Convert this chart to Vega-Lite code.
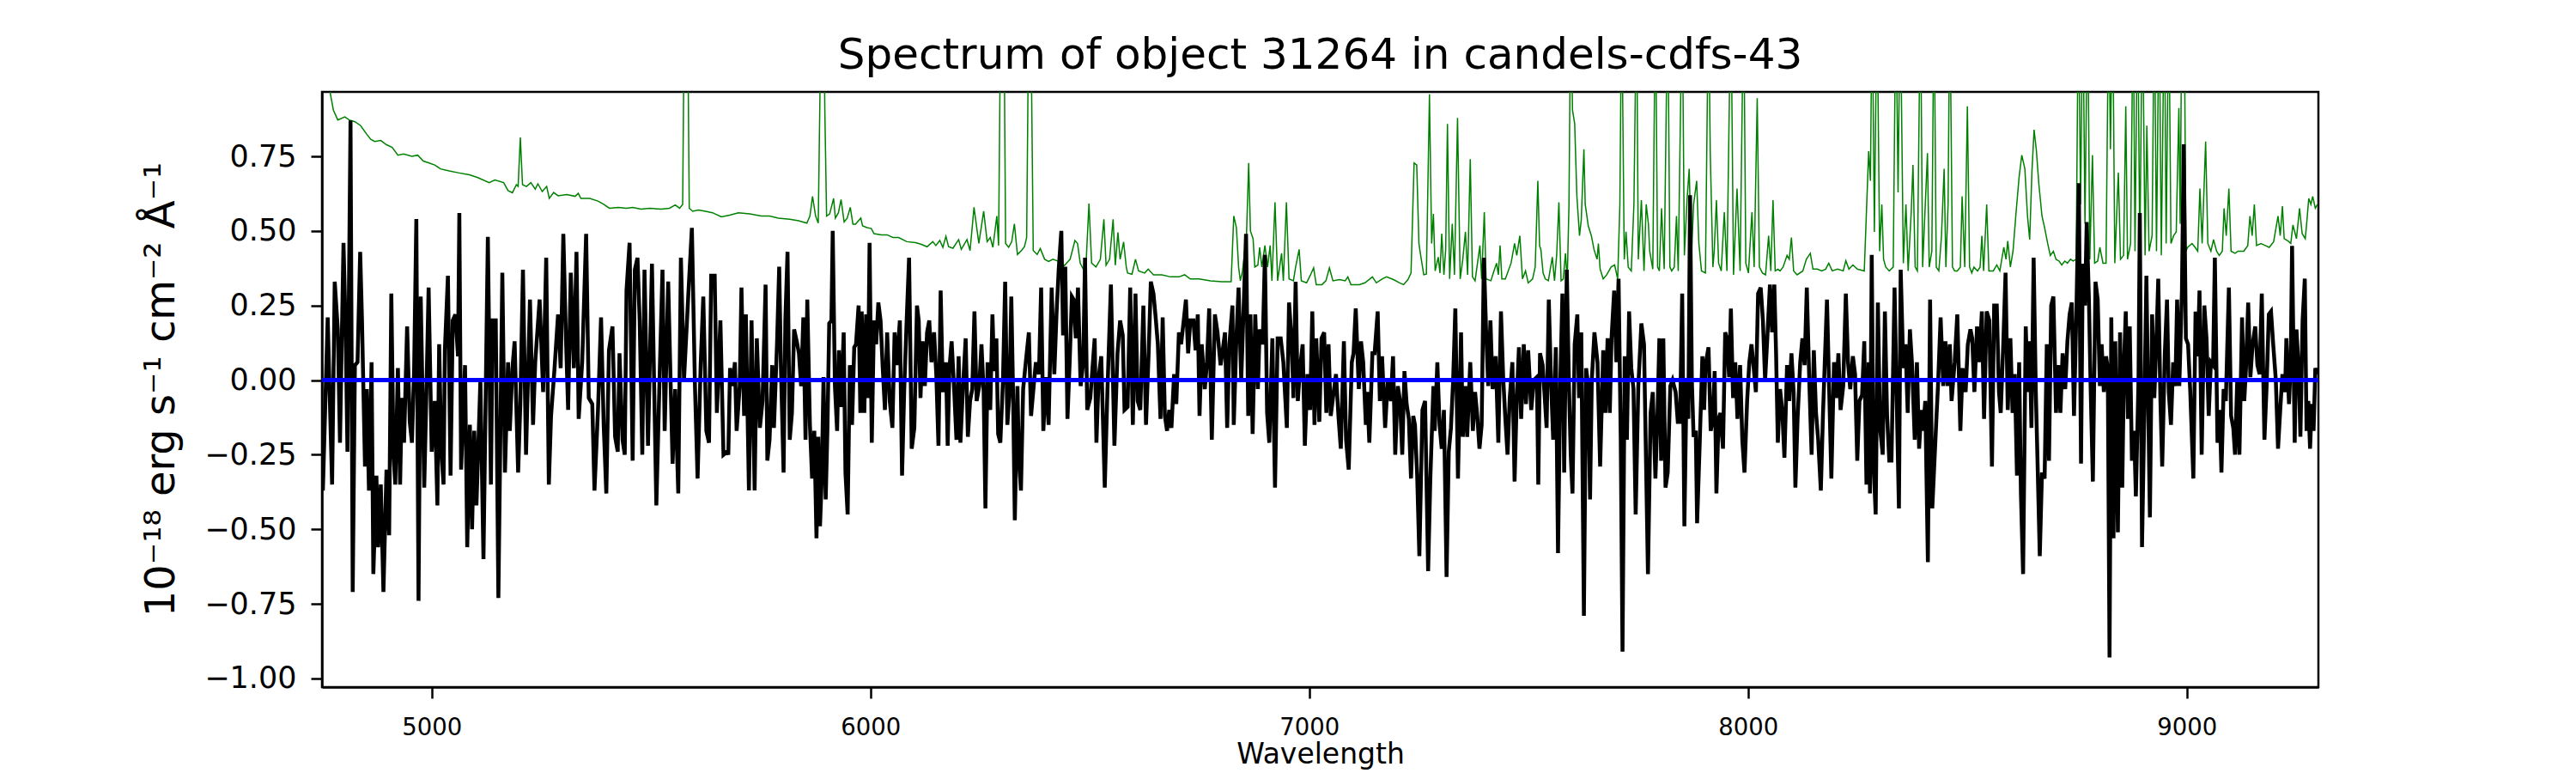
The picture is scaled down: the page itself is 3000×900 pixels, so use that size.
{
"$schema":"https://vega.github.io/schema/vega-lite/v6.json",
"width":2325,"height":693,
"autosize":{"type":"none"},
"padding":{"left":375,"top":107,"right":300,"bottom":100},
"background":"white",
"title":{"text":"Spectrum of object 31264 in candels-cdfs-43","font":"DejaVu Sans","fontSize":50,"fontWeight":"normal","color":"black","baseline":"alphabetic","offset":23,"dy":46,"frame":"group","anchor":"middle"},
"config":{"view":{"stroke":"black","strokeWidth":2.5},"axis":{"grid":false,"domainColor":"black","domainWidth":2.5,"tickColor":"black","tickWidth":2.5,"tickSize":13,"labelColor":"black","labelFont":"DejaVu Sans","titleFont":"DejaVu Sans","titleColor":"black","titleFontWeight":"normal","labelFlush":false,"labelOverlap":false,"labelBound":false}},
"datasets":{
"sky":[{"w":4750,"f":1.2},{"w":4769,"f":0.96},{"w":4776,"f":0.905},{"w":4786,"f":0.872},{"w":4802,"f":0.882},{"w":4812,"f":0.872},{"w":4825,"f":0.866},{"w":4838,"f":0.853},{"w":4851,"f":0.826},{"w":4861,"f":0.807},{"w":4870,"f":0.8},{"w":4884,"f":0.803},{"w":4897,"f":0.789},{"w":4910,"f":0.78},{"w":4923,"f":0.754},{"w":4936,"f":0.758},{"w":4955,"f":0.75},{"w":4968,"f":0.754},{"w":4981,"f":0.734},{"w":4994,"f":0.728},{"w":5007,"f":0.721},{"w":5020,"f":0.708},{"w":5040,"f":0.701},{"w":5060,"f":0.695},{"w":5086,"f":0.688},{"w":5105,"f":0.679},{"w":5131,"f":0.662},{"w":5144,"f":0.671},{"w":5164,"f":0.662},{"w":5174,"f":0.635},{"w":5184,"f":0.628},{"w":5193,"f":0.655},{"w":5197,"f":0.649},{"w":5202,"f":0.813},{"w":5207,"f":0.655},{"w":5216,"f":0.649},{"w":5226,"f":0.662},{"w":5236,"f":0.64},{"w":5242,"f":0.658},{"w":5252,"f":0.632},{"w":5262,"f":0.649},{"w":5268,"f":0.609},{"w":5278,"f":0.629},{"w":5288,"f":0.618},{"w":5308,"f":0.622},{"w":5327,"f":0.616},{"w":5334,"f":0.626},{"w":5340,"f":0.609},{"w":5360,"f":0.609},{"w":5379,"f":0.6},{"w":5392,"f":0.589},{"w":5405,"f":0.576},{"w":5425,"f":0.579},{"w":5444,"f":0.576},{"w":5458,"f":0.579},{"w":5477,"f":0.573},{"w":5497,"f":0.576},{"w":5523,"f":0.573},{"w":5542,"f":0.576},{"w":5555,"f":0.587},{"w":5565,"f":0.576},{"w":5572,"f":0.589},{"w":5576,"f":1.3},{"w":5583,"f":1.3},{"w":5587,"f":0.576},{"w":5595,"f":0.566},{"w":5608,"f":0.57},{"w":5624,"f":0.566},{"w":5640,"f":0.561},{"w":5660,"f":0.547},{"w":5679,"f":0.553},{"w":5699,"f":0.561},{"w":5725,"f":0.557},{"w":5751,"f":0.55},{"w":5770,"f":0.55},{"w":5790,"f":0.543},{"w":5816,"f":0.539},{"w":5836,"f":0.534},{"w":5855,"f":0.526},{"w":5862,"f":0.55},{"w":5868,"f":0.616},{"w":5875,"f":0.55},{"w":5881,"f":0.526},{"w":5888,"f":1.3},{"w":5893,"f":1.3},{"w":5896,"f":0.905},{"w":5900,"f":0.55},{"w":5907,"f":0.557},{"w":5916,"f":0.609},{"w":5920,"f":0.543},{"w":5927,"f":0.561},{"w":5933,"f":0.605},{"w":5940,"f":0.53},{"w":5947,"f":0.543},{"w":5954,"f":0.579},{"w":5960,"f":0.523},{"w":5966,"f":0.523},{"w":5978,"f":0.543},{"w":5982,"f":0.517},{"w":5992,"f":0.511},{"w":6002,"f":0.508},{"w":6008,"f":0.491},{"w":6025,"f":0.487},{"w":6038,"f":0.487},{"w":6051,"f":0.478},{"w":6064,"f":0.478},{"w":6083,"f":0.464},{"w":6103,"f":0.461},{"w":6116,"f":0.455},{"w":6129,"f":0.447},{"w":6142,"f":0.464},{"w":6149,"f":0.451},{"w":6158,"f":0.468},{"w":6165,"f":0.445},{"w":6172,"f":0.482},{"w":6178,"f":0.447},{"w":6188,"f":0.442},{"w":6201,"f":0.471},{"w":6207,"f":0.438},{"w":6220,"f":0.471},{"w":6227,"f":0.434},{"w":6236,"f":0.579},{"w":6247,"f":0.458},{"w":6258,"f":0.566},{"w":6266,"f":0.464},{"w":6273,"f":0.478},{"w":6279,"f":0.445},{"w":6288,"f":0.55},{"w":6292,"f":0.451},{"w":6297,"f":1.3},{"w":6304,"f":1.3},{"w":6308,"f":0.458},{"w":6315,"f":0.445},{"w":6322,"f":0.464},{"w":6328,"f":0.524},{"w":6335,"f":0.421},{"w":6344,"f":0.434},{"w":6351,"f":0.447},{"w":6356,"f":0.478},{"w":6361,"f":1.3},{"w":6365,"f":1.3},{"w":6371,"f":0.434},{"w":6380,"f":0.421},{"w":6387,"f":0.441},{"w":6397,"f":0.405},{"w":6406,"f":0.398},{"w":6416,"f":0.405},{"w":6429,"f":0.398},{"w":6442,"f":0.384},{"w":6455,"f":0.405},{"w":6466,"f":0.468},{"w":6472,"f":0.458},{"w":6478,"f":0.392},{"w":6485,"f":0.372},{"w":6491,"f":0.379},{"w":6498,"f":0.592},{"w":6504,"f":0.392},{"w":6514,"f":0.379},{"w":6524,"f":0.405},{"w":6532,"f":0.539},{"w":6537,"f":0.385},{"w":6545,"f":0.405},{"w":6553,"f":0.539},{"w":6558,"f":0.385},{"w":6564,"f":0.495},{"w":6569,"f":0.405},{"w":6577,"f":0.463},{"w":6583,"f":0.379},{"w":6586,"f":0.359},{"w":6596,"f":0.355},{"w":6604,"f":0.405},{"w":6611,"f":0.366},{"w":6625,"f":0.359},{"w":6633,"f":0.372},{"w":6645,"f":0.353},{"w":6664,"f":0.353},{"w":6684,"f":0.346},{"w":6703,"f":0.346},{"w":6716,"f":0.353},{"w":6729,"f":0.339},{"w":6749,"f":0.339},{"w":6775,"f":0.333},{"w":6801,"f":0.33},{"w":6822,"f":0.33},{"w":6828,"f":0.55},{"w":6834,"f":0.511},{"w":6839,"f":0.379},{"w":6843,"f":0.333},{"w":6848,"f":0.366},{"w":6857,"f":0.484},{"w":6862,"f":0.728},{"w":6866,"f":0.5},{"w":6872,"f":0.474},{"w":6876,"f":0.379},{"w":6883,"f":0.386},{"w":6887,"f":0.445},{"w":6892,"f":0.379},{"w":6899,"f":0.451},{"w":6905,"f":0.379},{"w":6911,"f":0.451},{"w":6915,"f":0.333},{"w":6922,"f":0.596},{"w":6928,"f":0.333},{"w":6937,"f":0.425},{"w":6941,"f":0.333},{"w":6948,"f":0.596},{"w":6954,"f":0.339},{"w":6964,"f":0.333},{"w":6969,"f":0.379},{"w":6977,"f":0.438},{"w":6982,"f":0.333},{"w":6994,"f":0.326},{"w":7003,"f":0.353},{"w":7010,"f":0.376},{"w":7016,"f":0.32},{"w":7029,"f":0.32},{"w":7038,"f":0.333},{"w":7046,"f":0.376},{"w":7054,"f":0.333},{"w":7069,"f":0.337},{"w":7082,"f":0.333},{"w":7088,"f":0.346},{"w":7095,"f":0.32},{"w":7114,"f":0.32},{"w":7127,"f":0.326},{"w":7144,"f":0.346},{"w":7153,"f":0.326},{"w":7166,"f":0.339},{"w":7176,"f":0.346},{"w":7192,"f":0.337},{"w":7206,"f":0.326},{"w":7215,"f":0.32},{"w":7225,"f":0.337},{"w":7232,"f":0.359},{"w":7239,"f":0.728},{"w":7245,"f":0.721},{"w":7250,"f":0.458},{"w":7254,"f":0.418},{"w":7261,"f":0.353},{"w":7267,"f":0.355},{"w":7274,"f":0.958},{"w":7279,"f":0.458},{"w":7283,"f":0.557},{"w":7287,"f":0.366},{"w":7294,"f":0.412},{"w":7298,"f":0.359},{"w":7302,"f":0.491},{"w":7307,"f":0.353},{"w":7311,"f":0.438},{"w":7315,"f":0.859},{"w":7320,"f":0.339},{"w":7326,"f":0.524},{"w":7331,"f":0.353},{"w":7338,"f":0.879},{"w":7344,"f":0.339},{"w":7350,"f":0.405},{"w":7356,"f":0.497},{"w":7361,"f":0.353},{"w":7367,"f":0.741},{"w":7372,"f":0.346},{"w":7378,"f":0.333},{"w":7389,"f":0.451},{"w":7393,"f":0.339},{"w":7399,"f":0.563},{"w":7403,"f":0.339},{"w":7414,"f":0.333},{"w":7421,"f":0.366},{"w":7427,"f":0.392},{"w":7431,"f":0.353},{"w":7435,"f":0.451},{"w":7439,"f":0.339},{"w":7447,"f":0.339},{"w":7460,"f":0.392},{"w":7468,"f":0.458},{"w":7473,"f":0.418},{"w":7480,"f":0.484},{"w":7486,"f":0.339},{"w":7493,"f":0.366},{"w":7499,"f":0.326},{"w":7509,"f":0.339},{"w":7515,"f":0.379},{"w":7521,"f":0.668},{"w":7525,"f":0.45},{"w":7528,"f":0.437},{"w":7533,"f":0.359},{"w":7538,"f":0.339},{"w":7545,"f":0.333},{"w":7554,"f":0.412},{"w":7559,"f":0.333},{"w":7564,"f":0.42},{"w":7569,"f":0.596},{"w":7574,"f":0.333},{"w":7579,"f":0.339},{"w":7584,"f":0.425},{"w":7588,"f":0.333},{"w":7592,"f":0.589},{"w":7596,"f":1.3},{"w":7600,"f":0.905},{"w":7605,"f":0.859},{"w":7610,"f":0.616},{"w":7616,"f":0.484},{"w":7620,"f":0.537},{"w":7626,"f":0.774},{"w":7629,"f":0.589},{"w":7636,"f":0.517},{"w":7643,"f":0.484},{"w":7649,"f":0.438},{"w":7656,"f":0.405},{"w":7659,"f":0.458},{"w":7663,"f":0.372},{"w":7670,"f":0.339},{"w":7678,"f":0.353},{"w":7688,"f":0.379},{"w":7696,"f":0.386},{"w":7703,"f":0.339},{"w":7708,"f":0.589},{"w":7712,"f":1.3},{"w":7718,"f":0.405},{"w":7722,"f":0.497},{"w":7727,"f":0.379},{"w":7734,"f":0.366},{"w":7740,"f":0.589},{"w":7746,"f":1.3},{"w":7750,"f":0.405},{"w":7757,"f":0.603},{"w":7763,"f":0.366},{"w":7768,"f":0.589},{"w":7773,"f":0.524},{"w":7776,"f":0.432},{"w":7783,"f":0.372},{"w":7789,"f":1.3},{"w":7794,"f":0.379},{"w":7798,"f":0.366},{"w":7803,"f":0.576},{"w":7809,"f":0.372},{"w":7817,"f":1.3},{"w":7822,"f":0.379},{"w":7826,"f":0.366},{"w":7832,"f":0.379},{"w":7837,"f":0.55},{"w":7841,"f":0.366},{"w":7850,"f":1.3},{"w":7855,"f":0.418},{"w":7861,"f":0.603},{"w":7866,"f":0.708},{"w":7871,"f":0.405},{"w":7876,"f":0.589},{"w":7883,"f":0.668},{"w":7888,"f":0.458},{"w":7894,"f":0.366},{"w":7903,"f":0.359},{"w":7910,"f":1.3},{"w":7914,"f":0.761},{"w":7920,"f":0.379},{"w":7923,"f":0.432},{"w":7928,"f":0.603},{"w":7933,"f":0.392},{"w":7939,"f":0.366},{"w":7946,"f":0.563},{"w":7952,"f":0.366},{"w":7961,"f":1.3},{"w":7967,"f":0.353},{"w":7975,"f":0.642},{"w":7982,"f":0.366},{"w":7990,"f":1.3},{"w":7995,"f":0.392},{"w":8001,"f":0.359},{"w":8009,"f":0.563},{"w":8014,"f":0.379},{"w":8021,"f":0.945},{"w":8026,"f":0.379},{"w":8033,"f":0.359},{"w":8040,"f":0.353},{"w":8047,"f":0.484},{"w":8052,"f":0.366},{"w":8057,"f":0.603},{"w":8062,"f":0.366},{"w":8068,"f":0.372},{"w":8073,"f":0.366},{"w":8080,"f":0.379},{"w":8089,"f":0.418},{"w":8094,"f":0.405},{"w":8099,"f":0.478},{"w":8104,"f":0.366},{"w":8112,"f":0.353},{"w":8125,"f":0.366},{"w":8133,"f":0.405},{"w":8142,"f":0.425},{"w":8148,"f":0.372},{"w":8158,"f":0.372},{"w":8168,"f":0.366},{"w":8177,"f":0.372},{"w":8184,"f":0.392},{"w":8192,"f":0.366},{"w":8204,"f":0.372},{"w":8217,"f":0.366},{"w":8223,"f":0.4},{"w":8230,"f":0.372},{"w":8239,"f":0.386},{"w":8249,"f":0.372},{"w":8265,"f":0.366},{"w":8275,"f":0.767},{"w":8279,"f":0.668},{"w":8283,"f":1.3},{"w":8288,"f":0.497},{"w":8294,"f":1.3},{"w":8300,"f":0.432},{"w":8305,"f":0.589},{"w":8309,"f":0.405},{"w":8314,"f":0.379},{"w":8322,"f":0.366},{"w":8331,"f":0.379},{"w":8337,"f":1.3},{"w":8342,"f":0.629},{"w":8347,"f":1.3},{"w":8354,"f":0.392},{"w":8360,"f":0.589},{"w":8365,"f":0.366},{"w":8372,"f":0.563},{"w":8376,"f":0.721},{"w":8381,"f":0.379},{"w":8386,"f":0.366},{"w":8393,"f":1.3},{"w":8398,"f":0.379},{"w":8409,"f":0.761},{"w":8413,"f":0.379},{"w":8419,"f":0.432},{"w":8424,"f":1.3},{"w":8429,"f":0.379},{"w":8435,"f":0.366},{"w":8441,"f":0.484},{"w":8447,"f":0.708},{"w":8451,"f":0.379},{"w":8456,"f":0.589},{"w":8460,"f":1.3},{"w":8466,"f":0.379},{"w":8471,"f":0.366},{"w":8477,"f":0.366},{"w":8484,"f":0.379},{"w":8488,"f":0.616},{"w":8494,"f":0.379},{"w":8500,"f":0.918},{"w":8505,"f":0.379},{"w":8510,"f":0.359},{"w":8515,"f":0.379},{"w":8523,"f":0.366},{"w":8529,"f":0.379},{"w":8533,"f":0.484},{"w":8537,"f":0.366},{"w":8544,"f":0.589},{"w":8549,"f":0.366},{"w":8559,"f":0.366},{"w":8567,"f":0.386},{"w":8574,"f":0.366},{"w":8583,"f":0.445},{"w":8588,"f":0.405},{"w":8592,"f":0.466},{"w":8598,"f":0.379},{"w":8604,"f":0.432},{"w":8611,"f":0.563},{"w":8618,"f":0.682},{"w":8624,"f":0.754},{"w":8631,"f":0.708},{"w":8637,"f":0.55},{"w":8642,"f":0.471},{"w":8647,"f":0.695},{"w":8652,"f":0.839},{"w":8657,"f":0.774},{"w":8663,"f":0.655},{"w":8670,"f":0.55},{"w":8676,"f":0.511},{"w":8683,"f":0.458},{"w":8689,"f":0.418},{"w":8696,"f":0.432},{"w":8702,"f":0.405},{"w":8709,"f":0.399},{"w":8715,"f":0.386},{"w":8722,"f":0.399},{"w":8728,"f":0.392},{"w":8735,"f":0.405},{"w":8741,"f":0.399},{"w":8748,"f":0.405},{"w":8753,"f":1.3},{"w":8758,"f":0.589},{"w":8763,"f":1.3},{"w":8768,"f":0.524},{"w":8774,"f":1.3},{"w":8779,"f":0.405},{"w":8785,"f":0.754},{"w":8790,"f":0.392},{"w":8797,"f":0.399},{"w":8802,"f":0.445},{"w":8809,"f":0.392},{"w":8816,"f":0.392},{"w":8822,"f":1.3},{"w":8826,"f":0.774},{"w":8831,"f":1.3},{"w":8836,"f":0.392},{"w":8844,"f":0.695},{"w":8849,"f":0.405},{"w":8856,"f":0.418},{"w":8861,"f":0.918},{"w":8865,"f":0.405},{"w":8872,"f":0.458},{"w":8878,"f":1.3},{"w":8882,"f":0.432},{"w":8888,"f":1.3},{"w":8893,"f":0.432},{"w":8899,"f":1.3},{"w":8905,"f":0.418},{"w":8909,"f":0.853},{"w":8914,"f":0.432},{"w":8921,"f":0.484},{"w":8926,"f":1.3},{"w":8931,"f":0.432},{"w":8937,"f":1.3},{"w":8942,"f":0.418},{"w":8949,"f":1.3},{"w":8953,"f":0.458},{"w":8959,"f":1.3},{"w":8964,"f":0.458},{"w":8970,"f":0.484},{"w":8976,"f":0.497},{"w":8982,"f":0.912},{"w":8985,"f":0.524},{"w":8989,"f":1.3},{"w":8994,"f":1.3},{"w":8998,"f":0.432},{"w":9002,"f":0.445},{"w":9012,"f":0.458},{"w":9019,"f":0.445},{"w":9025,"f":0.432},{"w":9030,"f":0.642},{"w":9035,"f":0.458},{"w":9043,"f":0.8},{"w":9048,"f":0.458},{"w":9055,"f":0.432},{"w":9061,"f":0.471},{"w":9068,"f":0.432},{"w":9074,"f":0.418},{"w":9081,"f":0.432},{"w":9085,"f":0.576},{"w":9090,"f":0.484},{"w":9096,"f":0.642},{"w":9101,"f":0.432},{"w":9110,"f":0.425},{"w":9117,"f":0.432},{"w":9130,"f":0.432},{"w":9139,"f":0.451},{"w":9144,"f":0.55},{"w":9149,"f":0.484},{"w":9154,"f":0.589},{"w":9159,"f":0.451},{"w":9169,"f":0.458},{"w":9179,"f":0.451},{"w":9188,"f":0.445},{"w":9198,"f":0.464},{"w":9208,"f":0.55},{"w":9213,"f":0.484},{"w":9218,"f":0.583},{"w":9222,"f":0.474},{"w":9231,"f":0.466},{"w":9237,"f":0.458},{"w":9242,"f":0.52},{"w":9247,"f":0.491},{"w":9250,"f":0.474},{"w":9257,"f":0.576},{"w":9263,"f":0.491},{"w":9270,"f":0.474},{"w":9273,"f":0.52},{"w":9278,"f":0.609},{"w":9283,"f":0.589},{"w":9287,"f":0.616},{"w":9293,"f":0.576},{"w":9298,"f":0.589}],
"spec":[{"w":4752,"f":-0.37},{"w":4756,"f":-0.16},{"w":4763,"f":0.21},{"w":4769,"f":-0.13},{"w":4773,"f":-0.35},{"w":4779,"f":0.33},{"w":4786,"f":0.17},{"w":4791,"f":-0.21},{"w":4799,"f":0.46},{"w":4804,"f":0.16},{"w":4808,"f":-0.24},{"w":4815,"f":0.87},{"w":4820,"f":-0.71},{"w":4825,"f":0.05},{"w":4831,"f":0.06},{"w":4837,"f":0.43},{"w":4841,"f":0.21},{"w":4848,"f":-0.29},{"w":4852,"f":-0.03},{"w":4857,"f":-0.37},{"w":4863,"f":0.06},{"w":4867,"f":-0.65},{"w":4874,"f":-0.32},{"w":4878,"f":-0.56},{"w":4884,"f":-0.35},{"w":4890,"f":-0.71},{"w":4897,"f":-0.3},{"w":4903,"f":-0.52},{"w":4908,"f":0.29},{"w":4913,"f":-0.25},{"w":4917,"f":-0.35},{"w":4923,"f":0.04},{"w":4928,"f":-0.35},{"w":4932,"f":-0.06},{"w":4937,"f":-0.21},{"w":4944,"f":0.18},{"w":4950,"f":-0.14},{"w":4955,"f":-0.21},{"w":4960,"f":0.04},{"w":4965,"f":0.54},{"w":4970,"f":-0.74},{"w":4975,"f":0.28},{"w":4983,"f":-0.36},{"w":4988,"f":-0.04},{"w":4993,"f":0.31},{"w":5000,"f":-0.24},{"w":5007,"f":-0.07},{"w":5013,"f":-0.42},{"w":5017,"f":0.12},{"w":5022,"f":-0.24},{"w":5027,"f":-0.35},{"w":5030,"f":0.1},{"w":5037,"f":0.35},{"w":5043,"f":-0.32},{"w":5048,"f":0.2},{"w":5054,"f":0.22},{"w":5060,"f":0.08},{"w":5063,"f":0.56},{"w":5067,"f":-0.3},{"w":5076,"f":0.05},{"w":5081,"f":-0.56},{"w":5087,"f":-0.15},{"w":5092,"f":-0.5},{"w":5097,"f":-0.17},{"w":5102,"f":-0.42},{"w":5111,"f":0},{"w":5118,"f":-0.6},{"w":5128,"f":0.48},{"w":5135,"f":-0.35},{"w":5139,"f":0.2},{"w":5146,"f":0.2},{"w":5152,"f":-0.73},{"w":5161,"f":0.36},{"w":5167,"f":-0.31},{"w":5174,"f":0.06},{"w":5178,"f":-0.17},{"w":5184,"f":0.04},{"w":5189,"f":0.13},{"w":5197,"f":-0.31},{"w":5202,"f":-0.08},{"w":5208,"f":0.37},{"w":5215,"f":-0.25},{"w":5224,"f":0.27},{"w":5231,"f":-0.15},{"w":5236,"f":0.06},{"w":5246,"f":0.27},{"w":5254,"f":-0.04},{"w":5261,"f":0.41},{"w":5267,"f":-0.35},{"w":5272,"f":-0.12},{"w":5280,"f":0.04},{"w":5288,"f":0.22},{"w":5294,"f":0.04},{"w":5300,"f":0.49},{"w":5306,"f":0.14},{"w":5311,"f":-0.1},{"w":5317,"f":0.36},{"w":5324,"f":0.04},{"w":5330,"f":0.43},{"w":5335,"f":-0.13},{"w":5343,"f":0.06},{"w":5352,"f":0.49},{"w":5358,"f":-0.06},{"w":5366,"f":-0.08},{"w":5371,"f":-0.37},{"w":5379,"f":-0.1},{"w":5386,"f":0.21},{"w":5392,"f":-0.15},{"w":5398,"f":-0.38},{"w":5404,"f":0.1},{"w":5412,"f":0.18},{"w":5418,"f":-0.19},{"w":5424,"f":-0.24},{"w":5428,"f":0.09},{"w":5435,"f":-0.2},{"w":5440,"f":-0.25},{"w":5444,"f":0.3},{"w":5451,"f":0.46},{"w":5458,"f":-0.27},{"w":5463,"f":0.37},{"w":5469,"f":0.41},{"w":5474,"f":0.2},{"w":5480,"f":-0.25},{"w":5485,"f":0.37},{"w":5493,"f":-0.22},{"w":5502,"f":0.39},{"w":5512,"f":-0.42},{"w":5520,"f":0.04},{"w":5526,"f":0.37},{"w":5531,"f":-0.17},{"w":5539,"f":0.33},{"w":5549,"f":-0.28},{"w":5555,"f":-0.03},{"w":5562,"f":-0.38},{"w":5568,"f":0.41},{"w":5575,"f":0},{"w":5585,"f":0.29},{"w":5593,"f":0.51},{"w":5600,"f":-0.02},{"w":5606,"f":-0.33},{"w":5613,"f":0.05},{"w":5619,"f":0.28},{"w":5626,"f":-0.17},{"w":5632,"f":-0.21},{"w":5637,"f":0.35},{"w":5645,"f":0.35},{"w":5650,"f":-0.11},{"w":5658,"f":0.2},{"w":5665,"f":-0.25},{"w":5673,"f":-0.24},{"w":5676,"f":-0.25},{"w":5680,"f":0.04},{"w":5686,"f":-0.02},{"w":5691,"f":0.06},{"w":5695,"f":-0.17},{"w":5702,"f":-0.02},{"w":5706,"f":0.31},{"w":5712,"f":-0.12},{"w":5716,"f":0.22},{"w":5723,"f":-0.37},{"w":5729,"f":0.2},{"w":5736,"f":-0.37},{"w":5741,"f":0.14},{"w":5748,"f":-0.16},{"w":5754,"f":-0.07},{"w":5761,"f":0.32},{"w":5765,"f":-0.27},{"w":5770,"f":-0.2},{"w":5776,"f":0.05},{"w":5780,"f":-0.16},{"w":5787,"f":0.12},{"w":5792,"f":0.38},{"w":5796,"f":0.04},{"w":5802,"f":-0.31},{"w":5806,"f":0.2},{"w":5811,"f":0.43},{"w":5816,"f":-0.2},{"w":5821,"f":-0.11},{"w":5826,"f":0.17},{"w":5832,"f":0.13},{"w":5837,"f":0.09},{"w":5842,"f":-0.02},{"w":5847,"f":0.21},{"w":5852,"f":-0.2},{"w":5856,"f":0.27},{"w":5862,"f":-0.15},{"w":5867,"f":-0.33},{"w":5872,"f":-0.17},{"w":5877,"f":-0.53},{"w":5881,"f":-0.19},{"w":5885,"f":-0.49},{"w":5889,"f":-0.33},{"w":5893,"f":0.01},{"w":5898,"f":-0.4},{"w":5902,"f":-0.16},{"w":5906,"f":0.19},{"w":5911,"f":0.2},{"w":5914,"f":0.5},{"w":5919,"f":-0.02},{"w":5924,"f":-0.17},{"w":5928,"f":0.1},{"w":5933,"f":-0.09},{"w":5939,"f":0.16},{"w":5943,"f":-0.31},{"w":5948,"f":-0.45},{"w":5953,"f":0.05},{"w":5958,"f":-0.15},{"w":5963,"f":0.11},{"w":5967,"f":0.12},{"w":5973,"f":0.25},{"w":5977,"f":-0.11},{"w":5980,"f":0.23},{"w":5986,"f":-0.11},{"w":5990,"f":0.22},{"w":5994,"f":-0.06},{"w":5998,"f":0.46},{"w":6003,"f":-0.21},{"w":6008,"f":0.2},{"w":6013,"f":0.12},{"w":6018,"f":0.26},{"w":6023,"f":0.2},{"w":6028,"f":0.04},{"w":6033,"f":-0.1},{"w":6038,"f":0.16},{"w":6044,"f":-0.07},{"w":6050,"f":-0.16},{"w":6055,"f":0.16},{"w":6060,"f":0.05},{"w":6067,"f":0.2},{"w":6072,"f":-0.32},{"w":6077,"f":-0.03},{"w":6082,"f":0.18},{"w":6088,"f":0.41},{"w":6094,"f":-0.23},{"w":6100,"f":-0.16},{"w":6106,"f":0.25},{"w":6110,"f":0.2},{"w":6114,"f":-0.06},{"w":6119,"f":0.13},{"w":6124,"f":-0.02},{"w":6129,"f":0.16},{"w":6134,"f":0.2},{"w":6139,"f":0.06},{"w":6145,"f":0.16},{"w":6150,"f":0.02},{"w":6155,"f":-0.22},{"w":6160,"f":0.3},{"w":6165,"f":-0.04},{"w":6172,"f":0.06},{"w":6176,"f":-0.22},{"w":6180,"f":0.04},{"w":6185,"f":0.13},{"w":6191,"f":-0.04},{"w":6196,"f":-0.2},{"w":6201,"f":0.08},{"w":6205,"f":-0.21},{"w":6211,"f":-0.02},{"w":6217,"f":0.14},{"w":6222,"f":-0.19},{"w":6227,"f":-0.07},{"w":6232,"f":-0.03},{"w":6237,"f":0.23},{"w":6242,"f":-0.07},{"w":6248,"f":-0.02},{"w":6253,"f":0.12},{"w":6258,"f":-0.04},{"w":6262,"f":-0.43},{"w":6267,"f":0.06},{"w":6273,"f":-0.1},{"w":6278,"f":0.22},{"w":6282,"f":0.03},{"w":6287,"f":0.14},{"w":6291,"f":-0.18},{"w":6296,"f":-0.21},{"w":6302,"f":0},{"w":6307,"f":0.33},{"w":6312,"f":-0.15},{"w":6317,"f":-0.04},{"w":6321,"f":0.28},{"w":6325,"f":-0.04},{"w":6329,"f":-0.47},{"w":6335,"f":-0.02},{"w":6338,"f":-0.25},{"w":6343,"f":-0.37},{"w":6348,"f":-0.03},{"w":6354,"f":0.06},{"w":6361,"f":0.16},{"w":6366,"f":-0.12},{"w":6372,"f":-0.02},{"w":6377,"f":0.06},{"w":6384,"f":0.02},{"w":6389,"f":0.31},{"w":6394,"f":-0.17},{"w":6400,"f":0.01},{"w":6406,"f":-0.15},{"w":6413,"f":0.31},{"w":6419,"f":0.02},{"w":6424,"f":0.22},{"w":6429,"f":0.37},{"w":6435,"f":0.5},{"w":6439,"f":0.15},{"w":6444,"f":0.38},{"w":6449,"f":-0.13},{"w":6454,"f":0.06},{"w":6459,"f":0.28},{"w":6463,"f":0.27},{"w":6468,"f":0.14},{"w":6473,"f":0.31},{"w":6479,"f":-0.02},{"w":6485,"f":0.06},{"w":6489,"f":0.41},{"w":6494,"f":-0.1},{"w":6501,"f":-0.06},{"w":6506,"f":0.04},{"w":6511,"f":0.14},{"w":6515,"f":-0.21},{"w":6520,"f":0.01},{"w":6526,"f":0.08},{"w":6534,"f":-0.36},{"w":6540,"f":-0.04},{"w":6548,"f":0.32},{"w":6556,"f":-0.22},{"w":6563,"f":0.09},{"w":6569,"f":0.2},{"w":6575,"f":0.15},{"w":6579,"f":-0.1},{"w":6586,"f":-0.09},{"w":6592,"f":0.31},{"w":6598,"f":-0.15},{"w":6604,"f":0.29},{"w":6609,"f":-0.07},{"w":6615,"f":-0.1},{"w":6622,"f":0.25},{"w":6628,"f":-0.15},{"w":6634,"f":0.09},{"w":6639,"f":0.33},{"w":6645,"f":0.29},{"w":6650,"f":0.21},{"w":6655,"f":0.12},{"w":6661,"f":-0.13},{"w":6666,"f":0.21},{"w":6671,"f":-0.12},{"w":6676,"f":-0.17},{"w":6681,"f":-0.1},{"w":6686,"f":-0.16},{"w":6692,"f":0.02},{"w":6697,"f":-0.08},{"w":6703,"f":0.16},{"w":6708,"f":0.12},{"w":6714,"f":0.2},{"w":6719,"f":0.27},{"w":6724,"f":0.09},{"w":6729,"f":0.2},{"w":6736,"f":0.2},{"w":6741,"f":0.1},{"w":6746,"f":0.22},{"w":6750,"f":-0.12},{"w":6755,"f":0.12},{"w":6762,"f":-0.03},{"w":6767,"f":0.06},{"w":6772,"f":0.24},{"w":6778,"f":-0.2},{"w":6785,"f":0.22},{"w":6791,"f":0.16},{"w":6798,"f":0.05},{"w":6802,"f":0.09},{"w":6808,"f":0.16},{"w":6813,"f":-0.16},{"w":6818,"f":0.12},{"w":6825,"f":0.25},{"w":6828,"f":-0.15},{"w":6834,"f":0.14},{"w":6839,"f":0.31},{"w":6845,"f":0},{"w":6850,"f":0.22},{"w":6856,"f":0.49},{"w":6861,"f":-0.12},{"w":6866,"f":0.22},{"w":6871,"f":-0.18},{"w":6877,"f":0.22},{"w":6883,"f":-0.03},{"w":6887,"f":0.17},{"w":6894,"f":0.12},{"w":6899,"f":0.42},{"w":6904,"f":-0.11},{"w":6909,"f":-0.21},{"w":6916,"f":0.14},{"w":6922,"f":-0.36},{"w":6928,"f":0.14},{"w":6935,"f":0.14},{"w":6941,"f":0.06},{"w":6949,"f":-0.16},{"w":6954,"f":0.26},{"w":6960,"f":0.13},{"w":6964,"f":-0.06},{"w":6969,"f":0.33},{"w":6974,"f":-0.07},{"w":6979,"f":0.04},{"w":6985,"f":0.12},{"w":6990,"f":-0.22},{"w":6996,"f":0.02},{"w":7002,"f":-0.1},{"w":7007,"f":0.23},{"w":7012,"f":-0.15},{"w":7016,"f":0.14},{"w":7023,"f":-0.14},{"w":7028,"f":0.14},{"w":7034,"f":0.16},{"w":7039,"f":-0.11},{"w":7044,"f":0.12},{"w":7049,"f":-0.12},{"w":7054,"f":-0.06},{"w":7061,"f":0.02},{"w":7067,"f":-0.13},{"w":7072,"f":-0.23},{"w":7079,"f":0.13},{"w":7084,"f":-0.2},{"w":7090,"f":-0.3},{"w":7097,"f":0.06},{"w":7101,"f":0.09},{"w":7106,"f":0.24},{"w":7113,"f":-0.03},{"w":7118,"f":0.13},{"w":7123,"f":0.06},{"w":7129,"f":-0.15},{"w":7132,"f":-0.04},{"w":7137,"f":-0.21},{"w":7144,"f":0.09},{"w":7149,"f":0.09},{"w":7156,"f":0.23},{"w":7161,"f":-0.07},{"w":7166,"f":0.08},{"w":7173,"f":-0.16},{"w":7179,"f":0},{"w":7186,"f":-0.07},{"w":7191,"f":0.08},{"w":7196,"f":-0.25},{"w":7202,"f":-0.02},{"w":7207,"f":-0.07},{"w":7212,"f":-0.25},{"w":7217,"f":0.03},{"w":7222,"f":-0.08},{"w":7227,"f":-0.13},{"w":7232,"f":-0.33},{"w":7237,"f":-0.12},{"w":7241,"f":-0.15},{"w":7246,"f":-0.32},{"w":7251,"f":-0.59},{"w":7258,"f":-0.1},{"w":7264,"f":-0.07},{"w":7271,"f":-0.64},{"w":7276,"f":-0.33},{"w":7283,"f":-0.02},{"w":7286,"f":-0.17},{"w":7292,"f":0.06},{"w":7297,"f":-0.15},{"w":7302,"f":-0.23},{"w":7307,"f":-0.1},{"w":7313,"f":-0.66},{"w":7318,"f":-0.24},{"w":7323,"f":-0.16},{"w":7328,"f":0},{"w":7333,"f":0.24},{"w":7339,"f":-0.33},{"w":7346,"f":0.16},{"w":7350,"f":-0.19},{"w":7356,"f":-0.02},{"w":7360,"f":-0.19},{"w":7367,"f":0.06},{"w":7373,"f":-0.17},{"w":7378,"f":-0.04},{"w":7383,"f":-0.12},{"w":7388,"f":-0.23},{"w":7393,"f":-0.15},{"w":7398,"f":0.41},{"w":7403,"f":0.17},{"w":7408,"f":-0.02},{"w":7413,"f":0.2},{"w":7418,"f":-0.03},{"w":7425,"f":0.08},{"w":7431,"f":-0.21},{"w":7437,"f":0.23},{"w":7442,"f":0.01},{"w":7447,"f":-0.13},{"w":7452,"f":-0.25},{"w":7457,"f":-0.06},{"w":7463,"f":0.06},{"w":7468,"f":-0.34},{"w":7473,"f":-0.06},{"w":7478,"f":0.11},{"w":7483,"f":-0.13},{"w":7489,"f":0.12},{"w":7494,"f":-0.08},{"w":7499,"f":0.1},{"w":7506,"f":-0.1},{"w":7512,"f":0},{"w":7519,"f":0.01},{"w":7522,"f":-0.35},{"w":7526,"f":0.09},{"w":7532,"f":0.05},{"w":7536,"f":-0.04},{"w":7541,"f":-0.16},{"w":7546,"f":0.27},{"w":7551,"f":0},{"w":7556,"f":-0.2},{"w":7562,"f":0.11},{"w":7567,"f":-0.58},{"w":7572,"f":-0.02},{"w":7577,"f":0.29},{"w":7581,"f":-0.31},{"w":7587,"f":0.37},{"w":7592,"f":-0.02},{"w":7596,"f":-0.25},{"w":7600,"f":-0.38},{"w":7605,"f":0.12},{"w":7611,"f":0.22},{"w":7615,"f":-0.06},{"w":7620,"f":0.16},{"w":7626,"f":-0.79},{"w":7631,"f":0.04},{"w":7636,"f":-0.02},{"w":7640,"f":-0.4},{"w":7644,"f":0},{"w":7650,"f":0.16},{"w":7657,"f":0.06},{"w":7663,"f":-0.29},{"w":7670,"f":0.1},{"w":7675,"f":-0.11},{"w":7680,"f":0.14},{"w":7685,"f":-0.11},{"w":7689,"f":0.14},{"w":7695,"f":0.3},{"w":7700,"f":0.06},{"w":7705,"f":0.34},{"w":7710,"f":-0.2},{"w":7714,"f":-0.91},{"w":7719,"f":0.08},{"w":7724,"f":-0.2},{"w":7729,"f":0.23},{"w":7734,"f":0.04},{"w":7739,"f":-0.03},{"w":7744,"f":-0.45},{"w":7750,"f":-0.02},{"w":7757,"f":0.19},{"w":7763,"f":0.12},{"w":7772,"f":-0.65},{"w":7778,"f":-0.11},{"w":7783,"f":-0.04},{"w":7789,"f":-0.33},{"w":7794,"f":-0.1},{"w":7798,"f":0.14},{"w":7802,"f":-0.27},{"w":7807,"f":0.14},{"w":7812,"f":-0.36},{"w":7817,"f":-0.31},{"w":7823,"f":-0.02},{"w":7828,"f":0},{"w":7835,"f":-0.04},{"w":7840,"f":-0.14},{"w":7845,"f":-0.14},{"w":7850,"f":0.29},{"w":7855,"f":-0.49},{"w":7860,"f":0},{"w":7864,"f":-0.13},{"w":7868,"f":0.62},{"w":7872,"f":0},{"w":7876,"f":-0.19},{"w":7881,"f":-0.17},{"w":7884,"f":-0.48},{"w":7890,"f":-0.21},{"w":7896,"f":0.08},{"w":7900,"f":-0.1},{"w":7903,"f":0.05},{"w":7910,"f":0.11},{"w":7915,"f":-0.17},{"w":7920,"f":-0.13},{"w":7924,"f":0.03},{"w":7928,"f":-0.38},{"w":7933,"f":-0.13},{"w":7937,"f":-0.11},{"w":7943,"f":-0.23},{"w":7948,"f":0.16},{"w":7952,"f":0.14},{"w":7957,"f":0.01},{"w":7961,"f":0.24},{"w":7966,"f":-0.06},{"w":7971,"f":0.06},{"w":7976,"f":-0.13},{"w":7982,"f":0.05},{"w":7987,"f":-0.2},{"w":7992,"f":-0.31},{"w":7998,"f":-0.07},{"w":8003,"f":0.06},{"w":8008,"f":0.12},{"w":8013,"f":0.04},{"w":8018,"f":-0.04},{"w":8023,"f":0.29},{"w":8029,"f":0.31},{"w":8034,"f":0.2},{"w":8039,"f":0},{"w":8044,"f":0.14},{"w":8050,"f":0.32},{"w":8055,"f":0.16},{"w":8060,"f":0.32},{"w":8064,"f":0.09},{"w":8068,"f":-0.21},{"w":8073,"f":-0.03},{"w":8078,"f":-0.1},{"w":8083,"f":-0.26},{"w":8089,"f":0.05},{"w":8094,"f":-0.07},{"w":8099,"f":0.09},{"w":8104,"f":-0.04},{"w":8108,"f":-0.36},{"w":8113,"f":-0.13},{"w":8119,"f":0.06},{"w":8124,"f":0.14},{"w":8129,"f":0.05},{"w":8134,"f":0.31},{"w":8140,"f":-0.02},{"w":8145,"f":-0.25},{"w":8150,"f":0.1},{"w":8155,"f":-0.11},{"w":8160,"f":-0.2},{"w":8166,"f":-0.37},{"w":8171,"f":-0.11},{"w":8175,"f":0.06},{"w":8180,"f":0.27},{"w":8185,"f":-0.03},{"w":8190,"f":-0.33},{"w":8196,"f":0.06},{"w":8201,"f":-0.06},{"w":8206,"f":0.09},{"w":8211,"f":-0.1},{"w":8217,"f":-0.02},{"w":8223,"f":0.29},{"w":8228,"f":0.06},{"w":8233,"f":-0.03},{"w":8239,"f":0.08},{"w":8244,"f":0.02},{"w":8249,"f":-0.27},{"w":8254,"f":-0.07},{"w":8260,"f":-0.05},{"w":8265,"f":0.13},{"w":8270,"f":-0.35},{"w":8275,"f":0.06},{"w":8278,"f":-0.38},{"w":8282,"f":0.42},{"w":8286,"f":-0.27},{"w":8291,"f":-0.45},{"w":8296,"f":0.26},{"w":8301,"f":-0.16},{"w":8307,"f":-0.25},{"w":8312,"f":0.23},{"w":8317,"f":-0.12},{"w":8322,"f":-0.27},{"w":8327,"f":-0.27},{"w":8334,"f":0.31},{"w":8339,"f":-0.07},{"w":8344,"f":-0.43},{"w":8348,"f":0.37},{"w":8354,"f":0.04},{"w":8359,"f":0.12},{"w":8364,"f":-0.11},{"w":8369,"f":0.17},{"w":8374,"f":0.05},{"w":8380,"f":-0.2},{"w":8385,"f":0.06},{"w":8390,"f":-0.23},{"w":8395,"f":-0.1},{"w":8399,"f":-0.17},{"w":8404,"f":-0.07},{"w":8410,"f":-0.61},{"w":8415,"f":0.27},{"w":8420,"f":-0.43},{"w":8425,"f":-0.27},{"w":8430,"f":-0.11},{"w":8433,"f":-0.02},{"w":8439,"f":0.21},{"w":8445,"f":-0.02},{"w":8450,"f":0.13},{"w":8455,"f":-0.02},{"w":8460,"f":0.12},{"w":8464,"f":-0.07},{"w":8471,"f":0.06},{"w":8477,"f":0.22},{"w":8484,"f":-0.17},{"w":8489,"f":0.04},{"w":8496,"f":-0.04},{"w":8501,"f":0.12},{"w":8507,"f":0.17},{"w":8511,"f":0.14},{"w":8516,"f":-0.04},{"w":8522,"f":0.18},{"w":8527,"f":0.06},{"w":8533,"f":0.23},{"w":8538,"f":-0.13},{"w":8544,"f":0.23},{"w":8550,"f":0.2},{"w":8556,"f":-0.29},{"w":8561,"f":0.25},{"w":8567,"f":0.25},{"w":8572,"f":-0.04},{"w":8576,"f":-0.11},{"w":8582,"f":0.13},{"w":8587,"f":0.36},{"w":8592,"f":-0.1},{"w":8598,"f":0.14},{"w":8603,"f":-0.11},{"w":8608,"f":0.02},{"w":8613,"f":-0.32},{"w":8618,"f":0.06},{"w":8622,"f":-0.38},{"w":8627,"f":-0.65},{"w":8633,"f":0.18},{"w":8638,"f":-0.04},{"w":8642,"f":0.13},{"w":8646,"f":-0.16},{"w":8651,"f":0.41},{"w":8656,"f":-0.04},{"w":8660,"f":-0.28},{"w":8665,"f":-0.59},{"w":8670,"f":-0.31},{"w":8676,"f":-0.33},{"w":8681,"f":0.12},{"w":8686,"f":-0.27},{"w":8691,"f":0.25},{"w":8696,"f":0.28},{"w":8702,"f":-0.11},{"w":8707,"f":0.05},{"w":8712,"f":-0.11},{"w":8717,"f":0.09},{"w":8723,"f":-0.03},{"w":8728,"f":0.13},{"w":8733,"f":0.22},{"w":8738,"f":0.26},{"w":8743,"f":-0.12},{"w":8749,"f":0.27},{"w":8754,"f":0.66},{"w":8759,"f":-0.28},{"w":8763,"f":0.39},{"w":8768,"f":0.25},{"w":8772,"f":0.53},{"w":8777,"f":0.27},{"w":8781,"f":-0.03},{"w":8786,"f":-0.34},{"w":8792,"f":0.33},{"w":8797,"f":0.27},{"w":8802,"f":-0.02},{"w":8806,"f":0.12},{"w":8811,"f":-0.04},{"w":8816,"f":0.08},{"w":8820,"f":0.04},{"w":8824,"f":-0.93},{"w":8828,"f":0.21},{"w":8833,"f":-0.53},{"w":8837,"f":0.13},{"w":8843,"f":-0.51},{"w":8848,"f":0.16},{"w":8853,"f":-0.36},{"w":8857,"f":0.06},{"w":8861,"f":0.23},{"w":8866,"f":-0.13},{"w":8870,"f":0.18},{"w":8875,"f":-0.27},{"w":8880,"f":-0.17},{"w":8884,"f":-0.39},{"w":8890,"f":0},{"w":8893,"f":0.56},{"w":8898,"f":-0.56},{"w":8903,"f":-0.13},{"w":8908,"f":0.35},{"w":8912,"f":-0.07},{"w":8916,"f":-0.46},{"w":8921,"f":0.22},{"w":8926,"f":-0.06},{"w":8931,"f":0.14},{"w":8935,"f":0.34},{"w":8940,"f":-0.07},{"w":8944,"f":-0.29},{"w":8950,"f":0.09},{"w":8955,"f":0.27},{"w":8959,"f":-0.04},{"w":8964,"f":-0.15},{"w":8969,"f":0.06},{"w":8974,"f":-0.02},{"w":8978,"f":0.27},{"w":8983,"f":-0.02},{"w":8989,"f":0.3},{"w":8993,"f":0.79},{"w":8998,"f":0.14},{"w":9003,"f":0.12},{"w":9008,"f":-0.04},{"w":9015,"f":-0.33},{"w":9020,"f":0.23},{"w":9025,"f":0.08},{"w":9029,"f":0.3},{"w":9034,"f":-0.25},{"w":9040,"f":0.25},{"w":9045,"f":0.14},{"w":9050,"f":-0.12},{"w":9055,"f":0.06},{"w":9060,"f":0.05},{"w":9064,"f":0.41},{"w":9070,"f":-0.21},{"w":9075,"f":-0.1},{"w":9079,"f":-0.31},{"w":9084,"f":-0.03},{"w":9089,"f":-0.07},{"w":9096,"f":0.31},{"w":9101,"f":-0.12},{"w":9106,"f":-0.16},{"w":9110,"f":-0.25},{"w":9115,"f":0},{"w":9120,"f":-0.25},{"w":9126,"f":0.21},{"w":9131,"f":-0.07},{"w":9135,"f":0.04},{"w":9140,"f":0.26},{"w":9145,"f":0.01},{"w":9150,"f":0.12},{"w":9156,"f":0.18},{"w":9161,"f":0.05},{"w":9166,"f":0.02},{"w":9171,"f":0.29},{"w":9177,"f":-0.2},{"w":9182,"f":-0.02},{"w":9187,"f":0.22},{"w":9192,"f":0.23},{"w":9197,"f":0.12},{"w":9203,"f":0},{"w":9208,"f":-0.23},{"w":9213,"f":-0.1},{"w":9218,"f":0.02},{"w":9224,"f":-0.04},{"w":9227,"f":0.14},{"w":9233,"f":-0.08},{"w":9237,"f":0.06},{"w":9240,"f":0.45},{"w":9246,"f":-0.21},{"w":9250,"f":0.17},{"w":9255,"f":0.04},{"w":9259,"f":-0.19},{"w":9264,"f":0.2},{"w":9269,"f":0.34},{"w":9273,"f":-0.17},{"w":9277,"f":-0.07},{"w":9281,"f":-0.23},{"w":9285,"f":-0.08},{"w":9289,"f":-0.17},{"w":9293,"f":0.04},{"w":9298,"f":0.02}],
"model":[{"w":4750,"f":0},{"w":9300,"f":0}]
},
"layer":[
{"data":{"name":"sky"},"mark":{"type":"line","color":"#008000","strokeWidth":1.5,"clip":true},
 "encoding":{
  "x":{"field":"w","type":"quantitative","scale":{"domain":[4750,9300],"nice":false,"zero":false},
   "axis":{"values":[5000,6000,7000,8000,9000],"format":"d","labelFontSize":27.5,"labelBaseline":"alphabetic","labelPadding":42,"title":"Wavelength","titleFontSize":33,"titleBaseline":"alphabetic","titleY":88}},
  "y":{"field":"f","type":"quantitative","scale":{"domain":[-1.029,0.966],"nice":false,"zero":false},
   "axis":{"values":[-1,-0.75,-0.5,-0.25,0,0.25,0.5,0.75],"format":".2f","labelFontSize":35,"labelPadding":17,"title":"10⁻¹⁸ erg s⁻¹ cm⁻² Å⁻¹","titleFontSize":48,"titleBaseline":"alphabetic","titleAngle":270,"titleAlign":"center","titleX":-173,"titleY":346}}}},
{"data":{"name":"spec"},"mark":{"type":"line","color":"#000000","strokeWidth":4.5,"clip":true},
 "encoding":{"x":{"field":"w","type":"quantitative"},"y":{"field":"f","type":"quantitative"}}},
{"data":{"name":"model"},"mark":{"type":"line","color":"#0000ff","strokeWidth":5,"clip":true},
 "encoding":{"x":{"field":"w","type":"quantitative"},"y":{"field":"f","type":"quantitative"}}}
]
}
